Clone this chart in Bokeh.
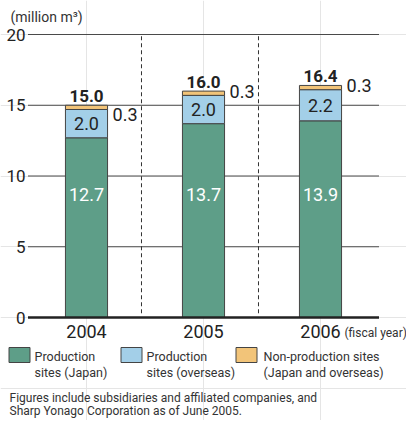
from bokeh.plotting import figure
from bokeh.models import FactorRange, Range1d, ColumnDataSource, Label
from bokeh.transform import dodge
from bokeh.core.properties import value
from bokeh.embed import file_html
from bokeh.resources import INLINE

# ---- data ----
years = ["2004", "2005", "2006"]
japan = [12.7, 13.7, 13.9]
overseas = [2.0, 2.0, 2.2]
nonprod = [0.3, 0.3, 0.3]
totals = [15.0, 16.0, 16.4]
y_ticks = [0, 5, 10, 15, 20]
series_names = ["japan", "overseas", "nonprod"]
legend_lines = [("Production", "sites (Japan)"),
                ("Production", "sites (overseas)"),
                ("Non-production sites", "(Japan and overseas)")]
unit_label = "(million m³)"
fiscal_label = "(fiscal year)"
footnote = ["Figures include subsidiaries and affiliated companies, and",
            "Sharp Yonago Corporation as of June 2005."]

# ---- style / layout ----
colors = ["#5e9e88", "#a3cfe8", "#f2c479"]
FONT = value("Roboto")
W, H = 406, 420
XU = 117.0      # px per category
PAD = (W - 3 * XU) / 2 / XU   # per-side padding in category units
YU = 14.15      # px per million m3
ZERO_PY = 317   # page y of zero line


def sx(px):
    return px / XU - PAD


def sy(py):
    return (ZERO_PY - py) / YU


p = figure(width=W, height=H,
           x_range=FactorRange(*years, range_padding=PAD, range_padding_units="absolute"),
           y_range=Range1d(sy(H), sy(0)),
           x_axis_location=None, y_axis_location=None,
           toolbar_location=None, output_backend="svg",
           min_border=0)
p.outline_line_color = None
p.background_fill_color = "white"

n_cat = len(years)

# grid lines
grid_ticks = [t for t in y_ticks if t != 0]
p.segment(x0=[0] * len(grid_ticks), x1=[n_cat] * len(grid_ticks), y0=grid_ticks, y1=grid_ticks,
          line_color="#4a4a4a", line_width=1)

# dashed separators
sep = [i + 0.97 for i in range(n_cat - 1)]
p.segment(x0=sep, x1=sep, y0=[0.3] * len(sep), y1=[max(y_ticks)] * len(sep),
          line_color="#333333", line_width=1, line_dash="4 3")

# bars
src = ColumnDataSource(dict(years=years, japan=japan, overseas=overseas, nonprod=nonprod,
                            totals=totals))
p.vbar_stack(series_names, x="years", width=0.36, source=src, fill_color=colors,
             line_color="#444444", line_width=1)

# zero line
p.segment(x0=[0], x1=[n_cat], y0=[0], y1=[0], line_color="#222222", line_width=2.5)

# y tick labels
p.text(x=[sx(25)] * len(y_ticks), y=y_ticks, text=[str(t) for t in y_ticks],
       text_font=FONT, text_font_size="17px", text_align="right", text_baseline="middle",
       text_color="#222222")

# unit label
p.text(x=[sx(10)], y=[sy(16)], text=[unit_label], text_font=FONT, text_font_size="14px",
       text_align="left", text_baseline="middle", text_color="#333333")

# x labels
p.text(x=years, y=[sy(331)] * n_cat, text=years, text_font=FONT, text_font_size="18px",
       text_align="center", text_baseline="middle", text_color="#222222")
p.add_layout(Label(x=sx(344), y=sy(332), text=fiscal_label, text_font="Roboto",
                   text_font_size="12px", text_align="left", text_baseline="middle",
                   text_color="#333333"))

# inner labels
p.text(x=years, y=[sy(194)] * n_cat, text=[f"{v:.1f}" for v in japan], text_font=FONT,
       text_font_size="18px", text_align="center", text_baseline="middle", text_color="white")
p.text(x=years, y=[j + o / 2 for j, o in zip(japan, overseas)],
       text=[f"{v:.1f}" for v in overseas], text_font=FONT, text_font_size="18px",
       text_align="center", text_baseline="middle", text_color="#222222")

# totals (centre of digits ~9px above bar top)
p.text(x=years, y=[t + 9.5 / YU for t in totals], text=[f"{v:.1f}" for v in totals],
       text_font=FONT, text_font_size="17px", text_font_style="bold", text_align="center",
       text_baseline="middle", text_color="#222222")

# non-production labels beside bars
np_dy = [-0.64, -0.05, 0.0]
np_src = ColumnDataSource(dict(years=years, y=[t + d for t, d in zip(totals, np_dy)],
                               text=[f"{v:.1f}" for v in nonprod]))
p.text(x=dodge("years", 0.223, range=p.x_range), y="y", text="text", source=np_src,
       text_font=FONT, text_font_size="18px", text_align="left", text_baseline="middle",
       text_color="#222222")

# legend
leg_sq_px = [19, 131, 246]
leg_tx_px = [34, 146, 263]
p.rect(x=[sx(v) for v in leg_sq_px], y=[sy(354.5)] * 3, width=21, height=15,
       width_units="screen", height_units="screen", fill_color=colors,
       line_color="#444444", line_width=1)
p.text(x=[sx(v) for v in leg_tx_px], y=[sy(356)] * 3, text=[a for a, b in legend_lines],
       text_font=FONT, text_font_size="12.5px", text_align="left", text_baseline="middle",
       text_color="#333333")
p.text(x=[sx(v) for v in leg_tx_px], y=[sy(372)] * 3, text=[b for a, b in legend_lines],
       text_font=FONT, text_font_size="12.5px", text_align="left", text_baseline="middle",
       text_color="#333333")

# footnote
p.text(x=[sx(9)] * 2, y=[sy(397), sy(410)], text=footnote, text_font=FONT,
       text_font_size="12px", text_align="left", text_baseline="middle", text_color="#333333")

open("out.html", "w").write(file_html(p, INLINE))
